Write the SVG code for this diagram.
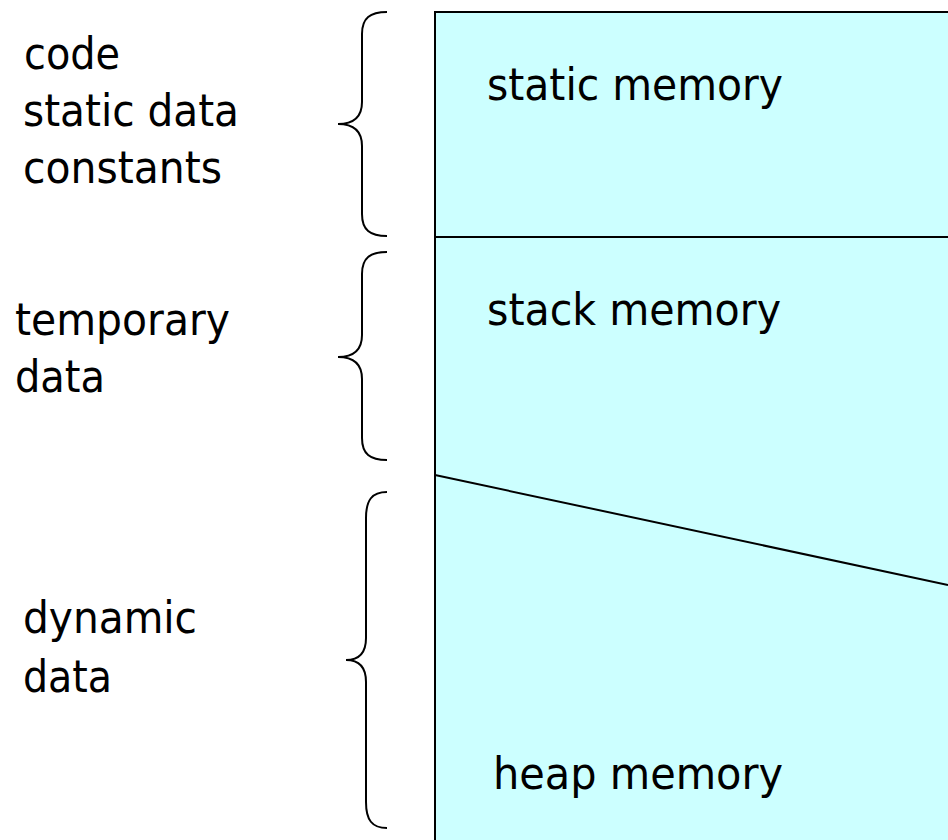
<svg xmlns="http://www.w3.org/2000/svg" width="948" height="840" viewBox="0 0 948 840">
<style>
text{font-family:"DejaVu Sans Condensed","DejaVu Sans",sans-serif;font-size:44px;fill:#000}
.brace{fill:none;stroke:#000;stroke-width:2}
.edge{stroke:#000;stroke-width:2;fill:none}
</style>
<rect width="948" height="840" fill="#fff"/>
<g id="memory">
<rect x="435" y="12" width="520" height="840" fill="#CCFFFF" stroke="#000" stroke-width="2"/>
</g>
<g id="connectors">
<line class="edge" x1="435" y1="237" x2="948" y2="237"/>
<line class="edge" x1="435" y1="475" x2="948" y2="585"/>
</g>
<g id="static-memory"><text x="487" y="100" textLength="296" lengthAdjust="spacingAndGlyphs">static memory</text></g>
<g id="stack-memory"><text x="487" y="325" textLength="294" lengthAdjust="spacingAndGlyphs">stack memory</text></g>
<g id="heap-memory"><text x="493" y="789" textLength="290" lengthAdjust="spacingAndGlyphs">heap memory</text></g>
<g id="static-label">
<text x="24" y="69" textLength="96" lengthAdjust="spacingAndGlyphs">code</text>
<text x="23" y="126" textLength="216" lengthAdjust="spacingAndGlyphs">static data</text>
<text x="23" y="183" textLength="199" lengthAdjust="spacingAndGlyphs">constants</text>
<path class="brace" d="M387,12 C370,12 362,18 362,34 L362,102 C362,116 354,124 338,124 C354,124 362,132 362,146 L362,214 C362,230 370,236 387,236"/>
</g>
<g id="temporary-label">
<text x="15" y="335" textLength="215" lengthAdjust="spacingAndGlyphs">temporary</text>
<text x="15" y="392" textLength="90" lengthAdjust="spacingAndGlyphs">data</text>
<path class="brace" d="M387,252 C370,252 362,258 362,274 L362,335 C362,349 354,357 338,357 C354,357 362,365 362,379 L362,438 C362,454 370,460 387,460"/>
</g>
<g id="dynamic-label">
<text x="23" y="633" textLength="174" lengthAdjust="spacingAndGlyphs">dynamic</text>
<text x="23" y="692" textLength="89" lengthAdjust="spacingAndGlyphs">data</text>
<path class="brace" d="M387,492 C372,492 366,500 366,518 L366,638 C366,652 360,660 346,660 C360,660 366,668 366,682 L366,802 C366,820 372,828 387,828"/>
</g>
</svg>
